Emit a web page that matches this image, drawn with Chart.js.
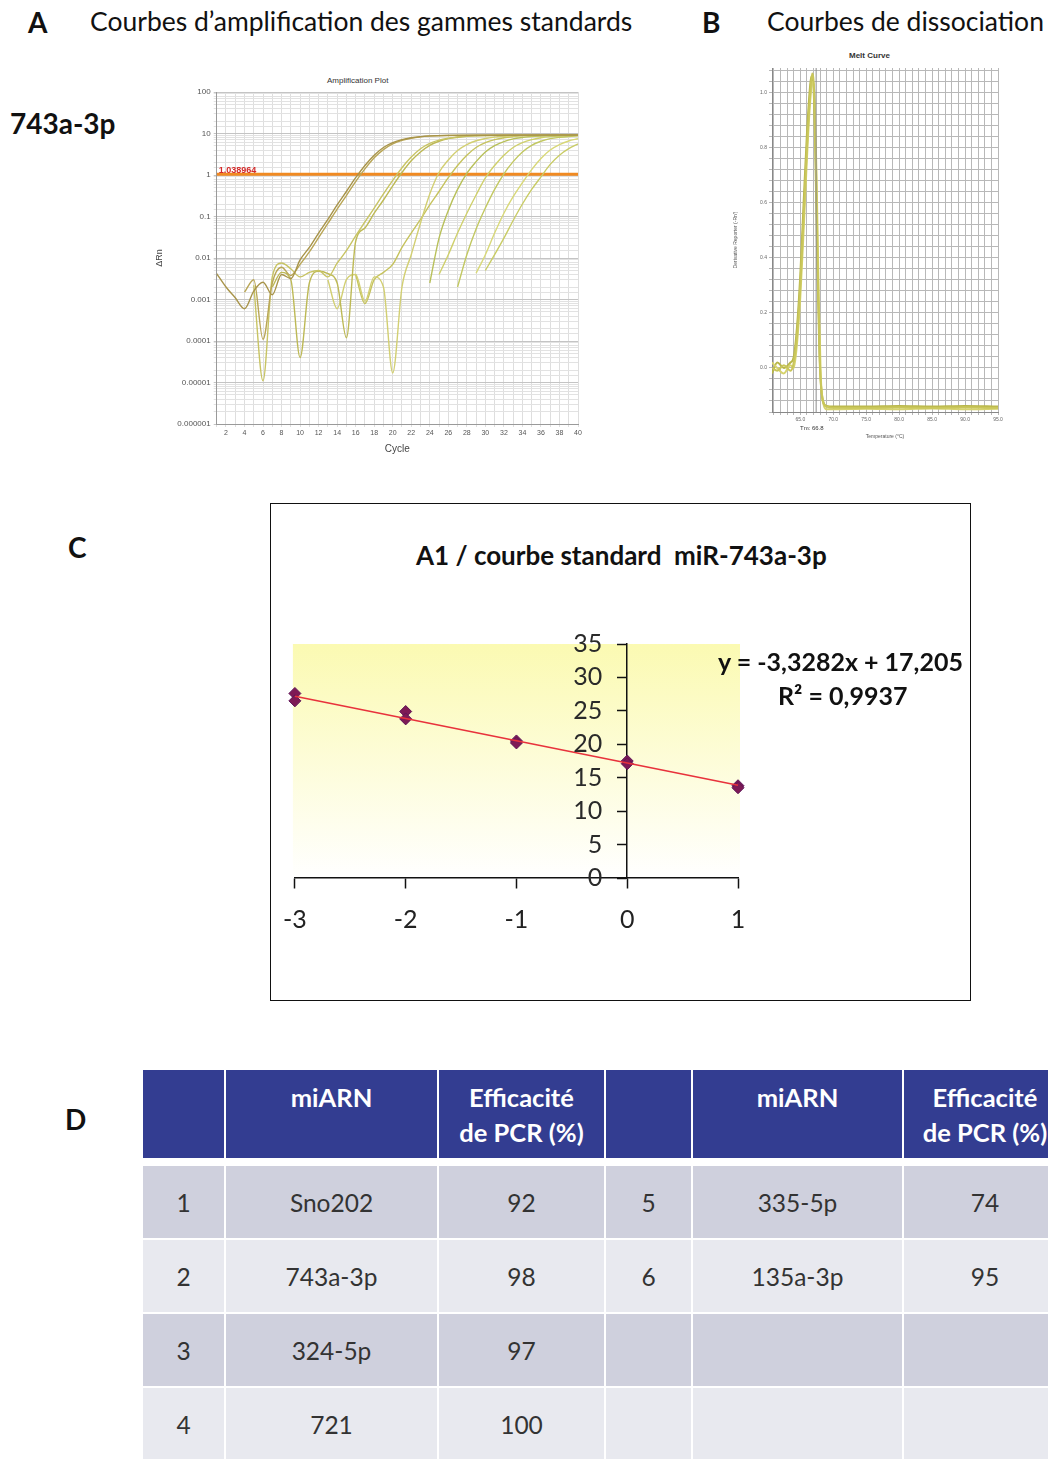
<!DOCTYPE html>
<html>
<head>
<meta charset="utf-8">
<script src="https://cdn.jsdelivr.net/npm/chart.js@4.4.1/dist/chart.umd.min.js"></script>
<style>
body { margin: 0; background: #fff; }
#page { position: relative; width: 1048px; height: 1459px; overflow: hidden; font-family: Lato, 'Noto Sans', sans-serif; color: #111; }
.t { position: absolute; white-space: nowrap; line-height: 1; }
.big { font-size: 28px; font-weight: bold; }
.hd { font-size: 26.5px; }
.tiny { font-family: 'Liberation Sans', Arial, sans-serif; font-size: 8px; color: #333; }
.cv { position: absolute; }
#boxC { position: absolute; left: 270px; top: 503px; width: 699px; height: 496px; border: 1.5px solid #111; }
#tbl { position: absolute; left: 143px; top: 1070px; width: 925px; border-collapse: separate; border-spacing: 0; table-layout: fixed; font-size: 24.5px; }
#tbl td, #tbl th { border-right: 2px solid #fff; border-bottom: 2px solid #fff; text-align: center; padding: 0; }
#tbl th { background: #333d91; color: #fff; font-weight: bold; font-size: 25.5px; vertical-align: top; height: 78px; line-height: 35px; padding-top: 10px; border-bottom: 8px solid #fff; }
#tbl td { height: 72px; color: #333; }
#tbl tr.odd td { background: #cfd0dd; }
#tbl tr.even td { background: #e8e9ef; }
</style>
</head>
<body>
<div id="page">
  <div class="t big" style="left:28px;top:8px;">A</div>
  <div class="t hd" style="left:90px;top:8px;">Courbes d’amplification des gammes standards</div>
  <div class="t big" style="left:702px;top:8px;">B</div>
  <div class="t hd" style="left:767px;top:8px;">Courbes de dissociation</div>
  <div class="t" style="left:10px;top:109px;font-size:28px;font-weight:bold;">743a-3p</div>

  <div class="t tiny" style="left:327px;top:77px;">Amplification Plot</div>
  <div class="cv" style="left:150px;top:70px;"><canvas id="ampChart" width="440" height="390"></canvas></div>

  <div class="t tiny" style="left:849px;top:52px;font-weight:bold;">Melt Curve</div>
  <div class="cv" style="left:728px;top:45px;"><canvas id="meltChart" width="290" height="400"></canvas></div>
  <div class="t tiny" style="left:800px;top:425px;font-size:6px;">Tm: 66.8</div>

  <div class="t big" style="left:68px;top:533px;">C</div>
  <div id="boxC"></div>
  <div class="t" style="left:416px;top:542px;font-size:26px;font-weight:bold;">A1 / courbe standard&nbsp; miR-743a-3p</div>
  <div class="cv" style="left:266px;top:620px;"><canvas id="stdChart" width="504" height="330"></canvas></div>
  <div class="t" style="left:718px;top:649px;font-size:25px;font-weight:bold;">y = -3,3282x + 17,205</div>
  <div class="t" style="left:778px;top:683px;font-size:25px;font-weight:bold;">R² = 0,9937</div>

  <div class="t big" style="left:65px;top:1105px;">D</div>
  <table id="tbl">
    <colgroup><col style="width:83px"><col style="width:213px"><col style="width:167px"><col style="width:87px"><col style="width:211px"><col style="width:164px"></colgroup>
    <thead><tr id="tblHead"></tr></thead>
    <tbody id="tblBody"></tbody>
  </table>
</div>

<script>
// ---- A : amplification plot (cycle, deltaRn) ----
const amp1 = [[1,0.0042],[2,0.002],[3,0.0011],[4,0.0006],[5,0.0016],[6,0.0026],[7,0.0013],[8,0.004],[9,0.0032],[10,0.009],[11,0.018],[12,0.04],[13,0.085],[14,0.19],[15,0.4],[16,0.86],[17,1.7],[18,3.0],[19,4.6],[20,6.0],[21,7.1],[22,7.9],[23,8.4],[24,8.75],[26,9.0],[30,9.1],[40,9.2]];
const amp2 = [[4,0.0015],[5,0.003],[6,0.00011],[7,0.0025],[8,0.006],[9,0.0038],[10,0.007],[11,0.014],[12,0.031],[13,0.068],[14,0.15],[15,0.32],[16,0.69],[17,1.4],[18,2.6],[19,4.1],[20,5.6],[21,6.8],[22,7.7],[23,8.3],[24,8.65],[26,8.95],[30,9.05],[40,9.15]];
const amp3 = [[5,0.0022],[6,0.000011],[7,0.0035],[8,0.0076],[9,0.0055],[10,0.0035],[11,0.0045],[12,0.005],[13,0.0035],[14,0.0075],[15,0.015],[16,0.034],[17,0.074],[18,0.16],[19,0.35],[20,0.74],[21,1.5],[22,2.7],[23,4.3],[24,5.8],[25,6.9],[26,7.7],[27,8.3],[28,8.7],[30,8.95],[34,9.05],[40,9.1]];
const amp4 = [[7,0.002],[8,0.0045],[9,0.003],[10,0.00004],[11,0.0025],[12,0.0048],[13,0.0042],[14,0.0025],[15,0.00012],[16,0.025],[17,0.053],[18,0.12],[19,0.25],[20,0.55],[21,1.15],[22,2.2],[23,3.6],[24,5.2],[25,6.5],[26,7.5],[27,8.1],[28,8.55],[30,8.9],[34,9.0],[40,9.05]];
const amp5 = [[13,0.003],[14,0.0006],[15,0.003],[16,0.004],[17,0.0009],[18,0.0035],[19,0.002],[20,0.000017],[21,0.002],[22,0.012],[23,0.07],[24,0.35],[25,1.15],[26,2.3],[27,3.9],[28,5.4],[29,6.7],[30,7.6],[31,8.2],[32,8.6],[34,8.9],[40,9.05]];
const amp6 = [[16,0.004],[17,0.0008],[18,0.003],[19,0.0045],[20,0.007],[21,0.018],[22,0.04],[23,0.085],[24,0.19],[25,0.4],[26,0.86],[27,1.7],[28,3.0],[29,4.6],[30,6.0],[31,7.1],[32,7.9],[33,8.4],[34,8.75],[36,9.0],[40,9.1]];
const amp7 = [[24,0.0025],[25,0.03],[26,0.14],[27,0.45],[28,1.1],[29,2.1],[30,3.6],[31,5.1],[32,6.4],[33,7.4],[34,8.0],[35,8.5],[37,8.85],[40,9.0]];
const amp8 = [[25,0.004],[26,0.012],[27,0.04],[28,0.12],[29,0.33],[30,0.85],[31,1.7],[32,3.0],[33,4.6],[34,6.0],[35,7.1],[36,7.9],[37,8.4],[38,8.7],[40,8.95]];
const amp9 = [[27,0.002],[28,0.012],[29,0.05],[30,0.16],[31,0.45],[32,1.07],[33,2.1],[34,3.6],[35,5.2],[36,6.5],[37,7.5],[38,8.1],[39,8.5],[40,8.75]];
const amp10 = [[29,0.0043],[30,0.012],[31,0.04],[32,0.12],[33,0.3],[34,0.65],[35,1.35],[36,2.5],[37,4.0],[38,5.4],[39,6.6],[40,7.5]];
const amp11 = [[30,0.005],[31,0.012],[32,0.03],[33,0.08],[34,0.2],[35,0.45],[36,0.9],[37,1.8],[38,3.0],[39,4.3],[40,5.6]];
const ampColors = ['#a8944a', '#b9a656', '#c8c464', '#bdb955', '#d2cf72', '#c6c35e', '#b8c05a', '#cfd06c', '#c2c862', '#d8d878', '#c9cc66'];
const threshold = 1.038964;
const ampYLabels = ['0.000001', '0.00001', '0.0001', '0.001', '0.01', '0.1', '1', '10', '100'];

// ---- B : melt curve (temperature, derivative) ----
const melt1 = [[60.7,0.0],[61.5,-0.01],[62.5,0.01],[63.5,-0.01],[64.0,0.02],[64.5,0.12],[65.0,0.3],[65.5,0.55],[66.0,0.8],[66.5,1.0],[66.8,1.07],[67.1,1.0],[67.4,0.7],[67.7,0.3],[68.0,0.0],[68.4,-0.12],[69,-0.14],[70,-0.145],[75,-0.145],[80,-0.143],[85,-0.145],[90,-0.143],[95,-0.145]];
const melt2 = [[60.7,0.02],[61.5,0.0],[62.5,-0.02],[63.5,0.01],[64.0,0.0],[64.5,0.09],[65.0,0.26],[65.5,0.5],[66.0,0.76],[66.5,0.97],[66.9,1.04],[67.2,0.96],[67.5,0.65],[67.8,0.25],[68.1,-0.03],[68.5,-0.13],[69,-0.15],[70,-0.15],[75,-0.148],[80,-0.15],[85,-0.147],[90,-0.15],[95,-0.148]];
const melt3 = [[60.7,-0.02],[61.5,0.02],[62.5,0.0],[63.5,0.02],[64.0,0.04],[64.5,0.15],[65.0,0.34],[65.5,0.6],[66.0,0.85],[66.5,1.03],[66.7,1.06],[67.0,1.02],[67.3,0.75],[67.6,0.35],[67.9,0.05],[68.3,-0.1],[69,-0.138],[70,-0.14],[75,-0.14],[80,-0.138],[85,-0.14],[90,-0.138],[95,-0.14]];
const meltTm = 67.4;
const meltXLabels = ['65.0', '70.0', '75.0', '80.0', '85.0', '90.0', '95.0'];
const meltYLabels = ['0.0', '0.2', '0.4', '0.6', '0.8', '1.0'];

// ---- C : standard curve ----
const stdLogQty = [-3, -3, -2, -2, -1, -1, 0, 0, 1, 1];
const stdCt = [27.6, 26.5, 24.9, 23.8, 20.5, 20.2, 17.5, 17.1, 13.8, 13.5];
const trendSlope = -3.3282;
const trendIntercept = 17.205;
const stdYTicks = [0, 5, 10, 15, 20, 25, 30, 35];
const stdXTicks = [-3, -2, -1, 0, 1];

// ---- D : PCR efficiency table ----
const tblHeader = ['', 'miARN', 'Efficacité<br>de PCR (%)', '', 'miARN', 'Efficacité<br>de PCR (%)'];
const tblIndex = ['1', '2', '3', '4'];
const tblMiRNA = ['Sno202', '743a-3p', '324-5p', '721'];
const tblEff = ['92', '98', '97', '100'];
const tblIndex2 = ['5', '6', '', ''];
const tblMiRNA2 = ['335-5p', '135a-3p', '', ''];
const tblEff2 = ['74', '95', '', ''];

const toXY = arr => arr.map(p => ({x: p[0], y: p[1]}));

// A
const ampSets = [amp1, amp2, amp3, amp4, amp5, amp6, amp7, amp8, amp9, amp10, amp11].map((c, i) => ({
    data: toXY(c),
    borderColor: ampColors[i],
    borderWidth: 1.4,
    pointRadius: 0,
    cubicInterpolationMode: 'monotone',
    clip: 0
}));
ampSets.push({
    data: [{x: 1, y: threshold}, {x: 40, y: threshold}],
    borderColor: '#f08a22',
    borderWidth: 3,
    pointRadius: 0
});

const thresholdLabel = {
    id: 'thresholdLabel',
    afterDatasetsDraw(chart) {
        const {ctx, scales} = chart;
        ctx.save();
        ctx.fillStyle = '#d42a2a';
        ctx.font = 'bold 9px "Liberation Sans"';
        ctx.textBaseline = 'bottom';
        ctx.fillText(String(threshold), scales.x.getPixelForValue(1) + 2, scales.y.getPixelForValue(threshold) + 1);
        ctx.restore();
    }
};

new Chart(document.getElementById('ampChart'), {
    type: 'line',
    data: {datasets: ampSets},
    options: {
        responsive: false,
        animation: false,
        layout: {padding: {left: 0, right: 12, top: 22, bottom: 0}},
        plugins: {legend: {display: false}, tooltip: {enabled: false}},
        scales: {
            x: {
                type: 'linear', min: 1, max: 40,
                afterFit: s => { s.height = 36; },
                grid: {color: '#dedede', tickLength: 3},
                border: {color: '#9a9a9a'},
                ticks: {stepSize: 1, autoSkip: false, maxRotation: 0, font: {family: 'Liberation Sans', size: 7}, color: '#555', padding: 2,
                    callback: v => (v % 2 === 0 ? v : '')},
                title: {display: true, text: 'Cycle', font: {family: 'Liberation Sans', size: 10}, color: '#444', padding: {bottom: 5}}
            },
            y: {
                type: 'logarithmic', min: 0.000001, max: 100,
                afterFit: s => { s.width = 66.7; },
                grid: {
                    color: ctx => {
                        const e = Math.log10(ctx.tick.value);
                        return Math.abs(e - Math.round(e)) < 1e-6 ? '#c4c4c4' : '#e2e2e2';
                    },
                    tickLength: 3
                },
                border: {color: '#9a9a9a'},
                ticks: {autoSkip: false, font: {family: 'Liberation Sans', size: 8}, color: '#555', padding: 3,
                    callback: v => {
                        const e = Math.log10(v);
                        const r = Math.round(e);
                        return Math.abs(e - r) < 1e-6 ? ampYLabels[r + 6] : '';
                    }},
                title: {display: true, text: 'ΔRn', font: {family: 'Liberation Sans', size: 9}, color: '#444', padding: {top: 4}}
            }
        }
    },
    plugins: [thresholdLabel]
});

// B
const meltSets = [melt1, melt2, melt3].map((c, i) => ({
    data: toXY(c),
    borderColor: ['#c9c65a', '#d6d36e', '#b8b64a'][i],
    borderWidth: 2,
    pointRadius: 0,
    cubicInterpolationMode: 'monotone'
}));
meltSets.unshift({
    data: [{x: meltTm, y: -0.16}, {x: meltTm, y: 1.09}],
    borderColor: '#8c8c8c',
    borderWidth: 1,
    pointRadius: 0
});

new Chart(document.getElementById('meltChart'), {
    type: 'line',
    data: {datasets: meltSets},
    options: {
        responsive: false,
        animation: false,
        layout: {padding: {left: 0, right: 20, top: 23, bottom: 0}},
        plugins: {legend: {display: false}, tooltip: {enabled: false}},
        scales: {
            x: {
                type: 'linear', min: 60.7, max: 95,
                afterFit: s => { s.height = 33; },
                grid: {color: '#b8b8b8', tickLength: 3},
                border: {color: '#888'},
                ticks: {stepSize: 1, autoSkip: false, includeBounds: false, maxRotation: 0, font: {family: 'Liberation Sans', size: 5}, color: '#666', padding: 2,
                    callback: v => {
                        const i = meltXLabels.indexOf(v.toFixed(1));
                        return i >= 0 ? meltXLabels[i] : '';
                    }},
                title: {display: true, text: 'Temperature (°C)', font: {family: 'Liberation Sans', size: 5}, color: '#555', padding: {bottom: 5}}
            },
            y: {
                type: 'linear', min: -0.16, max: 1.09,
                afterFit: s => { s.width = 44; },
                grid: {color: '#b8b8b8', tickLength: 3},
                border: {color: '#888'},
                ticks: {stepSize: 0.04, autoSkip: false, includeBounds: false, font: {family: 'Liberation Sans', size: 5}, color: '#666', padding: 2,
                    callback: v => {
                        const onStep = Math.abs(v / 0.2 - Math.round(v / 0.2)) < 1e-6;
                        const i = Math.round(v / 0.2);
                        return onStep && i >= 0 && i < meltYLabels.length ? meltYLabels[i] : '';
                    }},
                title: {display: true, text: "Derivative Reporter (-Rn')", font: {family: 'Liberation Sans', size: 5}, color: '#555', padding: {top: 5}}
            }
        }
    }
});

// C
const plotBg = {
    id: 'plotBg',
    beforeDraw(chart) {
        const {ctx, chartArea: a} = chart;
        const g = ctx.createLinearGradient(0, a.top, 0, a.bottom);
        g.addColorStop(0, '#fbfab2');
        g.addColorStop(1, '#ffffff');
        ctx.save();
        ctx.fillStyle = g;
        ctx.fillRect(a.left - 2, a.top, a.right - a.left + 4, a.bottom - a.top);
        ctx.restore();
    }
};

// y labels sit left of the crossing axis, right aligned
const yAxisLabels = {
    id: 'yAxisLabels',
    afterDraw(chart) {
        const {ctx, scales} = chart;
        const x0 = scales.x.getPixelForValue(0);
        ctx.save();
        ctx.fillStyle = '#2a2a2a';
        ctx.font = '25px Lato';
        ctx.textAlign = 'right';
        ctx.textBaseline = 'middle';
        stdYTicks.forEach(v => ctx.fillText(String(v), x0 - 25, scales.y.getPixelForValue(v)));
        ctx.restore();
    }
};

const trendX = [stdXTicks[0], stdXTicks[stdXTicks.length - 1]];
new Chart(document.getElementById('stdChart'), {
    type: 'scatter',
    data: {
        datasets: [
            {
                data: stdLogQty.map((x, i) => ({x: x, y: stdCt[i]})),
                pointStyle: 'rectRot',
                pointRadius: 6,
                backgroundColor: '#7e1a55',
                borderColor: '#5e1458',
                borderWidth: 1,
                clip: false,
                order: 1
            },
            {
                type: 'line',
                data: trendX.map(x => ({x: x, y: trendSlope * x + trendIntercept})),
                borderColor: '#e8323c',
                borderWidth: 1.6,
                pointRadius: 0,
                clip: false,
                order: 0
            }
        ]
    },
    options: {
        responsive: false,
        animation: false,
        layout: {padding: {left: 25, right: 32, top: 24, bottom: 72}},
        plugins: {legend: {display: false}, tooltip: {enabled: false}},
        scales: {
            x: {
                type: 'linear', min: -3, max: 1, position: {y: 0},
                grid: {drawOnChartArea: false, tickLength: 10, color: '#111', tickWidth: 1.5},
                border: {color: '#111', width: 1.5},
                ticks: {stepSize: 1, padding: 17, color: '#222', font: {family: 'Lato', size: 25}, maxRotation: 0}
            },
            y: {
                type: 'linear', min: 0, max: 35, position: {x: 0},
                grid: {drawOnChartArea: false, tickLength: 9, color: '#111', tickWidth: 1.5},
                border: {color: '#111', width: 1.5},
                ticks: {stepSize: 5, display: false}
            }
        }
    },
    plugins: [plotBg, yAxisLabels]
});

// D
document.getElementById('tblHead').innerHTML = tblHeader.map(h => '<th>' + h + '</th>').join('');
document.getElementById('tblBody').innerHTML = tblIndex.map((n, i) =>
    '<tr class="' + (i % 2 === 0 ? 'odd' : 'even') + '">' +
    [n, tblMiRNA[i], tblEff[i], tblIndex2[i], tblMiRNA2[i], tblEff2[i]].map(c => '<td>' + c + '</td>').join('') +
    '</tr>').join('');
</script>
</body>
</html>
